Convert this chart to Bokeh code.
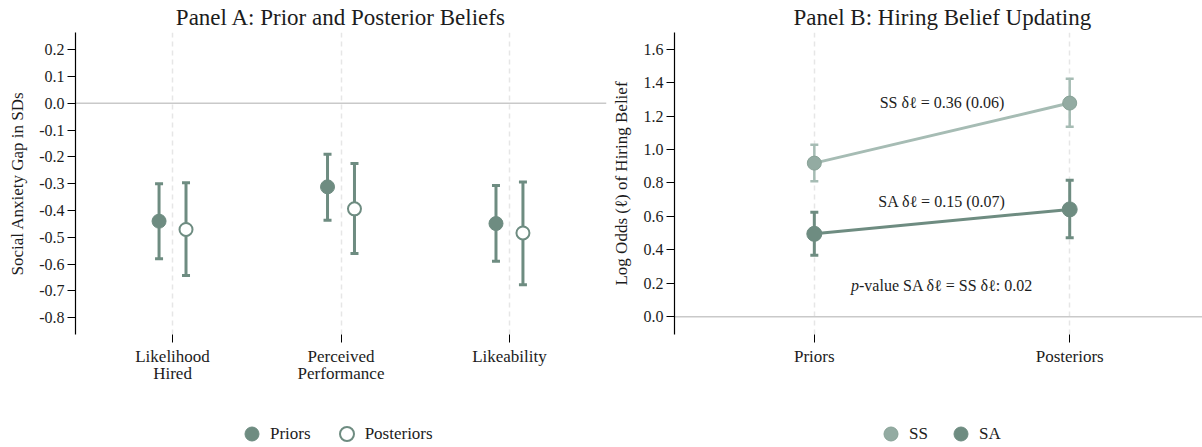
from bokeh.plotting import figure
from bokeh.models import (Range1d, FixedTicker, Span, Whisker, TeeHead, ColumnDataSource,
                          Legend, LegendItem, Label, PrintfTickFormatter)
from bokeh.layouts import row, column
from bokeh.transform import dodge
from bokeh.embed import file_html
from bokeh.resources import INLINE

FONT = "Liberation Serif"
TXT = "#1c1c1c"
DARK = "#6e8c81"
LIGHT_LINE = "#a6bcb4"
LIGHT_FILL = "#93aba2"
LIGHT_EDGE = "#88a297"
GRID = "#e6e6e6"
ZERO = "#c9c9c9"

# ---------------- Panel A data ----------------
measures = ["Likelihood\nHired", "Perceived\nPerformance", "Likeability"]
prior_est = [-0.440, -0.312, -0.449]
prior_lo = [-0.580, -0.437, -0.590]
prior_hi = [-0.300, -0.190, -0.307]
post_est = [-0.471, -0.394, -0.484]
post_lo = [-0.643, -0.561, -0.677]
post_hi = [-0.297, -0.225, -0.294]
a_yticks = [0.2, 0.1, 0.0, -0.1, -0.2, -0.3, -0.4, -0.5, -0.6, -0.7, -0.8]
a_ylabels = ["0.2", "0.1", "0.0", "-0.1", "-0.2", "-0.3", "-0.4", "-0.5", "-0.6", "-0.7", "-0.8"]
a_title = "Panel A: Prior and Posterior Beliefs"
a_ylabel = "Social Anxiety Gap in SDs"
a_series = ["Priors", "Posteriors"]

# ---------------- Panel B data ----------------
stages = ["Priors", "Posteriors"]
ss_est = [0.919, 1.278]
ss_lo = [0.810, 1.136]
ss_hi = [1.028, 1.424]
sa_est = [0.496, 0.642]
sa_lo = [0.368, 0.473]
sa_hi = [0.625, 0.816]
b_yticks = [0.0, 0.2, 0.4, 0.6, 0.8, 1.0, 1.2, 1.4, 1.6]
b_ylabels = ["0.0", "0.2", "0.4", "0.6", "0.8", "1.0", "1.2", "1.4", "1.6"]
b_title = "Panel B: Hiring Belief Updating"
b_ylabel = "Log Odds (\u2113) of Hiring Belief"
b_series = ["SS", "SA"]
ss_note = "SS \u03b4\u2113 = 0.36 (0.06)"
sa_note = "SA \u03b4\u2113 = 0.15 (0.07)"
p_italic = "p"
p_note = "-value SA \u03b4\u2113 = SS \u03b4\u2113: 0.02"
ss_note_y = 1.28
sa_note_y = 0.69
p_note_y = 0.19


def style(p, yticks, ylabels, xticks, xlabels, ylabel, label_standoff):
    p.outline_line_color = None
    p.background_fill_color = "white"
    p.ygrid.visible = False
    p.xgrid.ticker = FixedTicker(ticks=xticks)
    p.xgrid.grid_line_color = GRID
    p.xgrid.grid_line_dash = "5 4"
    p.xgrid.grid_line_width = 1.5
    # y axis
    p.yaxis.ticker = FixedTicker(ticks=yticks)
    p.yaxis.formatter = PrintfTickFormatter(format="%.1f")
    p.yaxis.major_label_overrides = {t: l for t, l in zip(yticks, ylabels)}
    p.yaxis.axis_line_color = "black"
    p.yaxis.axis_line_width = 1.2
    p.yaxis.major_tick_line_color = "black"
    p.yaxis.major_tick_out = 8
    p.yaxis.major_tick_in = 0
    p.yaxis.minor_tick_line_color = None
    p.yaxis.major_label_standoff = 3
    p.yaxis.major_label_text_font = FONT
    p.yaxis.major_label_text_font_size = "16px"
    p.yaxis.major_label_text_color = TXT
    p.yaxis.axis_label = ylabel
    p.yaxis.axis_label_text_font = FONT
    p.yaxis.axis_label_text_font_size = "17px"
    p.yaxis.axis_label_text_font_style = "normal"
    p.yaxis.axis_label_text_color = TXT
    p.yaxis.axis_label_standoff = label_standoff
    # x axis
    p.xaxis.ticker = FixedTicker(ticks=xticks)
    p.xaxis.major_label_overrides = {t: l for t, l in zip(xticks, xlabels)}
    p.xaxis.axis_line_color = None
    p.xaxis.major_tick_line_color = "black"
    p.xaxis.major_tick_out = 8
    p.xaxis.major_tick_in = 0
    p.xaxis.minor_tick_line_color = None
    p.xaxis.major_label_standoff = 4
    p.xaxis.major_label_text_font = FONT
    p.xaxis.major_label_text_font_size = "17px"
    p.xaxis.major_label_text_line_height = 0.9
    p.xaxis.major_label_text_color = TXT
    p.title.text_font = FONT
    p.title.text_font_size = "23px"
    p.title.text_font_style = "normal"
    p.title.text_color = TXT
    p.title.standoff = 5
    p.add_layout(Span(location=0, dimension="width", line_color=ZERO, line_width=1.5, level="underlay"))


def legend_fig(width, entries, loc, spacing):
    # the legend sits in its own strip below the panel; the series' points are
    # plotted with the panel's data but fall outside this strip's y range
    f = figure(width=width, height=47, output_backend="svg", toolbar_location=None,
               x_axis_location=None, y_axis_location=None, min_border=0,
               x_range=Range1d(0, 4), y_range=Range1d(10, 11))
    f.outline_line_color = None
    f.grid.visible = False
    items = []
    for label, src, ycol, kw in entries:
        r = f.scatter(x="x", y=ycol, source=src, **kw)
        items.append(LegendItem(label=label, renderers=[r]))
    lg = Legend(items=items, location=loc, orientation="horizontal",
                border_line_color=None, background_fill_alpha=0, padding=0, margin=0,
                glyph_width=35, glyph_height=35, label_height=35, label_standoff=1,
                spacing=spacing, label_text_font=FONT, label_text_font_size="17px",
                label_text_color=TXT)
    f.add_layout(lg)
    return f


# ---------------- Panel A ----------------
xa = list(range(1, len(measures) + 1))
srcA = ColumnDataSource(dict(x=xa, prior=prior_est, prior_lo=prior_lo, prior_hi=prior_hi,
                             post=post_est, post_lo=post_lo, post_hi=post_hi))
off = 0.08
pA = figure(width=608, height=400, x_range=Range1d(0.424, 3.576), y_range=Range1d(-0.863, 0.264),
            output_backend="svg", toolbar_location=None, title=a_title,
            min_border_left=75, min_border_right=2, min_border_top=32, min_border_bottom=66)
style(pA, a_yticks, a_ylabels, xa, measures, a_ylabel, 9)
pA.title.align = "center"

for est, lo, hi, o in (("prior", "prior_lo", "prior_hi", -off), ("post", "post_lo", "post_hi", off)):
    w = Whisker(source=srcA, base=dodge("x", o), upper=hi, lower=lo, dimension="height",
                line_color=DARK, line_width=3, level="underlay",
                upper_head=TeeHead(size=8, line_color=DARK, line_width=3),
                lower_head=TeeHead(size=8, line_color=DARK, line_width=3))
    pA.add_layout(w)
prior_style = dict(size=14, fill_color=DARK, line_color=DARK, line_width=1)
post_style = dict(size=13, fill_color="white", line_color=DARK, line_width=2)
pA.scatter(x=dodge("x", -off), y="prior", source=srcA, **prior_style)
pA.scatter(x=dodge("x", off), y="post", source=srcA, **post_style)

# ---------------- Panel B ----------------
xb = list(range(1, len(stages) + 1))
srcB = ColumnDataSource(dict(x=xb, ss=ss_est, ss_lo=ss_lo, ss_hi=ss_hi,
                             sa=sa_est, sa_lo=sa_lo, sa_hi=sa_hi))
pB = figure(width=594, height=400, x_range=Range1d(0.4525, 2.52), y_range=Range1d(-0.106, 1.70),
            output_backend="svg", toolbar_location=None, title=b_title,
            min_border_left=65, min_border_right=0, min_border_top=32, min_border_bottom=49)
style(pB, b_yticks, b_ylabels, xb, stages, b_ylabel, 10)
pB.title.align = "left"
pB.title.offset = 119

pB.add_layout(Whisker(source=srcB, base="x", upper="ss_hi", lower="ss_lo", dimension="height",
                      line_color=LIGHT_LINE, line_width=2.5, level="underlay",
                      upper_head=TeeHead(size=8, line_color=LIGHT_LINE, line_width=2.5),
                      lower_head=TeeHead(size=8, line_color=LIGHT_LINE, line_width=2.5)))
pB.add_layout(Whisker(source=srcB, base="x", upper="sa_hi", lower="sa_lo", dimension="height",
                      line_color=DARK, line_width=3, level="underlay",
                      upper_head=TeeHead(size=8, line_color=DARK, line_width=3),
                      lower_head=TeeHead(size=8, line_color=DARK, line_width=3)))
pB.line(x="x", y="ss", source=srcB, line_color=LIGHT_LINE, line_width=3)
pB.line(x="x", y="sa", source=srcB, line_color=DARK, line_width=3)
ss_style = dict(size=14, fill_color=LIGHT_FILL, line_color=LIGHT_EDGE, line_width=1)
sa_style = dict(size=15, fill_color=DARK, line_color=DARK, line_width=1)
pB.scatter(x="x", y="ss", source=srcB, **ss_style)
pB.scatter(x="x", y="sa", source=srcB, **sa_style)

mid = sum(xb) / len(xb)
for txt, yv in ((ss_note, ss_note_y), (sa_note, sa_note_y)):
    pB.add_layout(Label(x=mid, y=yv, text=txt, text_align="center", text_baseline="middle",
                        text_font=FONT, text_font_size="16px", text_color=TXT))
pB.add_layout(Label(x=mid, y=p_note_y, x_offset=-83, text=p_italic, text_align="right",
                    text_baseline="middle", text_font=FONT, text_font_size="16px",
                    text_font_style="italic", text_color=TXT))
pB.add_layout(Label(x=mid, y=p_note_y, x_offset=-83, text=p_note, text_align="left",
                    text_baseline="middle", text_font=FONT, text_font_size="16px", text_color=TXT))

# ---------------- Legends (below each panel) ----------------
legA = legend_fig(608, [(a_series[0], srcA, "prior", prior_style),
                        (a_series[1], srcA, "post", dict(post_style, size=14))],
                  (234, -4), 18)
legB = legend_fig(594, [(b_series[0], srcB, "ss", ss_style),
                        (b_series[1], srcB, "sa", dict(sa_style, size=14))],
                  (265, -4), 14)

layout = column(row(pA, pB), row(legA, legB))
open("out.html", "w").write(file_html(layout, INLINE))
